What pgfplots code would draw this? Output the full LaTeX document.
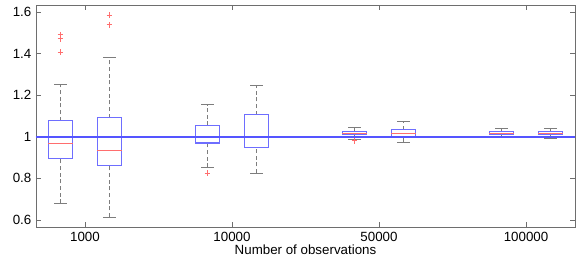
\documentclass[border=0pt]{standalone}
\usepackage{fontspec}
\setmainfont{Liberation Sans}
\usepackage{pgfplots}
\pgfplotsset{compat=1.18}
\definecolor{mblue}{RGB}{110,110,255}
\definecolor{lblue}{RGB}{85,85,255}
\definecolor{mred}{RGB}{255,110,110}
\definecolor{mgray}{RGB}{125,125,125}
\definecolor{fgray}{RGB}{110,110,110}
\begin{document}
\fontsize{10pt}{12pt}\selectfont
\begin{tikzpicture}
\begin{axis}[
  name=ax,
  scale only axis,
  width=404.25pt, height=166.5pt,
  xmin=0.5, xmax=11.5, ymin=0.566, ymax=1.634,
  xtick={1.5,4.5,7.5,10.5},
  xticklabels={1000,10000,50000,100000},
  ytick={0.6,0.8,1,1.2,1.4,1.6},
  yticklabels={0.6,0.8,1,1.2,1.4,1.6},
  tick align=inside,
  major tick length=4pt,
  axis line style={fgray},
  every tick/.style={fgray, line width=0.5pt},
  xlabel={Number of observations},
  xlabel style={yshift=4pt},
  tick label style={font=\fontsize{10pt}{12pt}\selectfont},
  label style={font=\fontsize{10pt}{12pt}\selectfont},
  /pgf/number format/assume math mode=true,
  unbounded coords=jump,
]
% whiskers (dashed)
\addplot[draw=mgray, line width=0.5pt, dash pattern=on 3pt off 2pt, mark=none] coordinates {
 (1,0.680) (1,0.897) (nan,nan) (1,1.077) (1,1.252) (nan,nan)
 (2,0.614) (2,0.864) (nan,nan) (2,1.092) (2,1.382) (nan,nan)
 (4,0.853) (4,0.970) (nan,nan) (4,1.055) (4,1.154) (nan,nan)
 (5,0.826) (5,0.948) (nan,nan) (5,1.106) (5,1.246) (nan,nan)
 (7,0.989) (7,1.009) (nan,nan) (7,1.026) (7,1.044) (nan,nan)
 (8,0.974) (8,1.002) (nan,nan) (8,1.034) (8,1.074) (nan,nan)
 (10,1.002) (10,1.010) (nan,nan) (10,1.025) (10,1.038) (nan,nan)
 (11,0.993) (11,1.009) (nan,nan) (11,1.026) (11,1.041)
};
% whisker caps
\addplot[draw=mgray, line width=0.6pt, solid, mark=none] coordinates {
 (0.875,0.680) (1.125,0.680) (nan,nan) (0.875,1.252) (1.125,1.252) (nan,nan)
 (1.875,0.614) (2.125,0.614) (nan,nan) (1.875,1.382) (2.125,1.382) (nan,nan)
 (3.875,0.853) (4.125,0.853) (nan,nan) (3.875,1.154) (4.125,1.154) (nan,nan)
 (4.875,0.826) (5.125,0.826) (nan,nan) (4.875,1.246) (5.125,1.246) (nan,nan)
 (6.875,0.989) (7.125,0.989) (nan,nan) (6.875,1.044) (7.125,1.044) (nan,nan)
 (7.875,0.974) (8.125,0.974) (nan,nan) (7.875,1.074) (8.125,1.074) (nan,nan)
 (9.875,1.002) (10.125,1.002) (nan,nan) (9.875,1.038) (10.125,1.038) (nan,nan)
 (10.875,0.993) (11.125,0.993) (nan,nan) (10.875,1.041) (11.125,1.041)
};
% boxes (lower quartile to upper quartile)
\addplot[draw=mblue, line width=0.8pt, solid, line cap=rect, line join=miter, mark=none] coordinates {
 (0.75,0.897) (1.25,0.897) (1.25,1.077) (0.75,1.077) (0.75,0.897) (nan,nan)
 (1.75,0.864) (2.25,0.864) (2.25,1.092) (1.75,1.092) (1.75,0.864) (nan,nan)
 (3.75,0.970) (4.25,0.970) (4.25,1.055) (3.75,1.055) (3.75,0.970) (nan,nan)
 (4.75,0.948) (5.25,0.948) (5.25,1.106) (4.75,1.106) (4.75,0.948) (nan,nan)
 (6.75,1.009) (7.25,1.009) (7.25,1.026) (6.75,1.026) (6.75,1.009) (nan,nan)
 (7.75,1.002) (8.25,1.002) (8.25,1.034) (7.75,1.034) (7.75,1.002) (nan,nan)
 (9.75,1.010) (10.25,1.010) (10.25,1.025) (9.75,1.025) (9.75,1.010) (nan,nan)
 (10.75,1.009) (11.25,1.009) (11.25,1.026) (10.75,1.026) (10.75,1.009)
};
% medians
\addplot[draw=mred, line width=0.8pt, solid, mark=none] coordinates {
 (0.75,0.969) (1.25,0.969) (nan,nan)
 (1.75,0.932) (2.25,0.932) (nan,nan)
 (3.75,1.000) (4.25,1.000) (nan,nan)
 (4.75,0.997) (5.25,0.997) (nan,nan)
 (6.75,1.017) (7.25,1.017) (nan,nan)
 (7.75,1.015) (8.25,1.015) (nan,nan)
 (9.75,1.018) (10.25,1.018) (nan,nan)
 (10.75,1.017) (11.25,1.017)
};
% outliers
\addplot[only marks, mark=+, mark size=2.2pt, mark options={draw=mred, line width=0.6pt}]
  coordinates {(1,1.491) (1,1.472) (1,1.406) (2,1.584) (2,1.539) (4,0.826) (7,0.981)};
% reference line
\addplot[draw=lblue, line width=1.8pt, mark=none] coordinates {(0.5,1) (11.5,1)};
\end{axis}
\path (ax.south west) ++(-27pt,-28.5pt) coordinate (bbA);
\path (ax.north east) ++(4.5pt,3.75pt) coordinate (bbB);
\path (bbA) rectangle (bbB);
\end{tikzpicture}
\end{document}
